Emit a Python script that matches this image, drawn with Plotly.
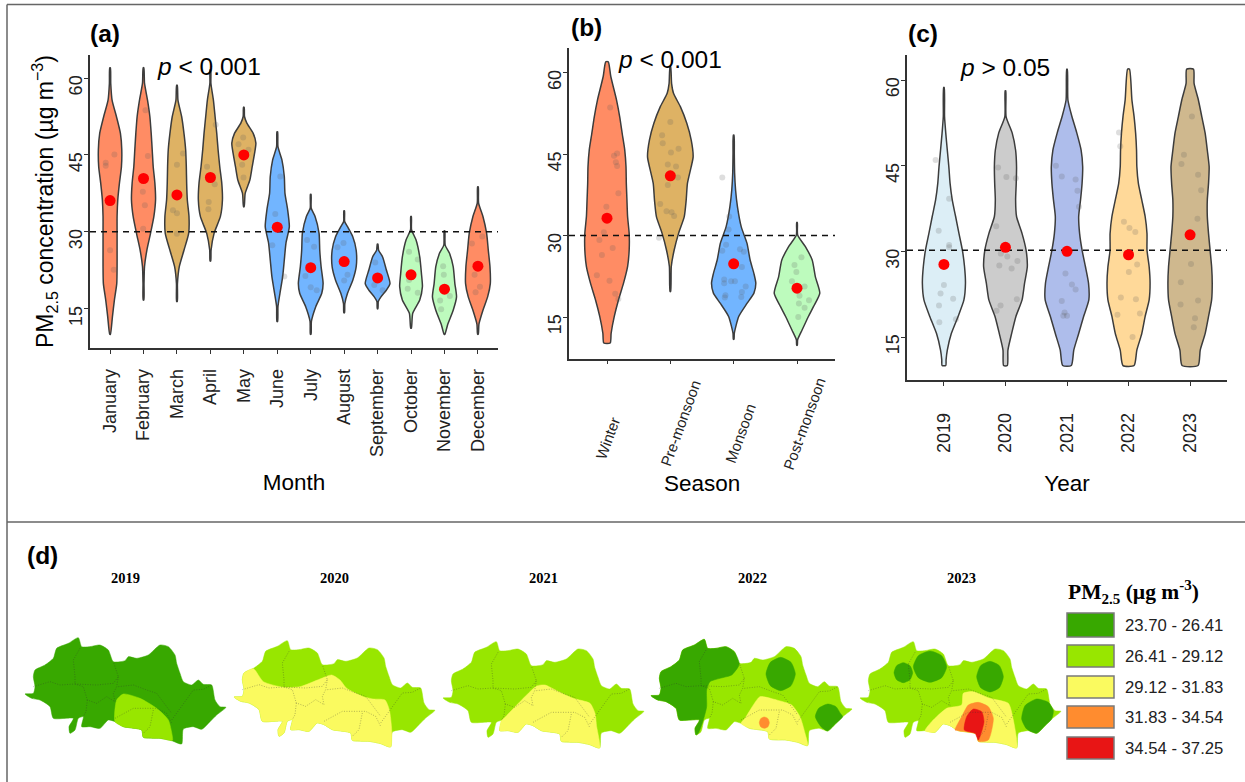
import plotly.graph_objects as go

W, H = 1245, 782
FONT = "Liberation Sans"
SERIF = "Liberation Serif"

# ---------- Panel (a): month ----------
MONTHS = ["January", "February", "March", "April", "May", "June", "July", "August",
          "September", "October", "November", "December"]
MONTH_COLORS = ["#FF8C64", "#FF8C64", "#DEB264", "#DEB264", "#DEB264", "#72B5FF", "#72B5FF",
                "#72B5FF", "#72B5FF", "#BDFBBD", "#BDFBBD", "#FF8C64"]
MONTH_MEANS = [36.1, 40.4, 37.2, 40.6, 45.0, 30.9, 23.0, 24.2, 21.0, 21.6, 18.8, 23.3]
MONTH_LEVELS = [
    [62, 59, 55.7, 52.5, 49.2, 46, 42.7, 39.5, 36.2, 33, 29.7, 26.4, 23.2, 19.9, 16.7, 13.4, 10],
    [62, 59, 55.7, 52.5, 49.2, 46, 42.7, 39.5, 36.2, 33, 29.7, 26.4, 23.2, 19.9, 16.7],
    [58.6, 55.7, 52.5, 49.2, 46, 42.7, 39.5, 36.2, 33, 29.7, 26.4, 23.2, 19.9, 16.4],
    [61.6, 59, 55.7, 52.5, 49.2, 46, 42.7, 39.5, 36.2, 33, 29.7, 26.4, 24.3],
    [54.3, 52.5, 51.2, 49.2, 47.3, 45.3, 42.7, 40.1, 37.5, 34.9],
    [49.5, 46.6, 44, 40.8, 37.5, 34.3, 31, 27.8, 24.5, 21.2, 18, 15.4, 12.5],
    [37.3, 34.6, 33, 29.7, 26.4, 23.2, 19.9, 18, 15.4, 12.5, 10],
    [34.1, 32, 31, 29, 26.4, 23.2, 20.6, 18, 16, 14.2],
    [27.6, 26.4, 25.1, 22.6, 19.9, 18.6, 17.3, 16.4, 15],
    [33, 30.4, 28.4, 25.1, 21.9, 19.3, 16.7, 14.1, 11.2],
    [30.2, 27.4, 25.8, 23.2, 19.9, 17.3, 14.7, 12, 10],
    [38.8, 35.6, 33, 29.7, 26.4, 23.2, 19.9, 17.3, 14.7, 12, 10],
]
MONTH_WIDTHS = [
    [.01, .02, .06, .19, .31, .35, .34, .28, .23, .21, .21, .21, .21, .20, .13, .07, .01],
    [.01, .03, .12, .19, .23, .26, .29, .34, .36, .31, .21, .10, .03, .015, .01],
    [.01, .03, .14, .21, .26, .28, .29, .31, .36, .35, .21, .07, .015, .01],
    [.01, .015, .09, .14, .19, .23, .28, .34, .36, .30, .11, .02, .01],
    [.01, .02, .09, .28, .36, .32, .25, .18, .04, .01],
    [.01, .02, .14, .21, .23, .31, .36, .26, .21, .16, .08, .02, .01],
    [.01, .015, .13, .25, .27, .31, .37, .33, .15, .02, .01],
    [.01, .015, .10, .26, .36, .36, .26, .10, .02, .01],
    [.01, .03, .15, .26, .37, .26, .10, .02, .01],
    [.01, .015, .15, .26, .31, .34, .26, .05, .01],
    [.01, .02, .15, .26, .31, .36, .26, .10, .01],
    [.01, .02, .15, .26, .31, .36, .37, .29, .15, .03, .01],
]
MONTH_PTS = [
    [(.13, 45.1), (-.13, 43.5), (-.13, 42.9), (0, 26.4), (.11, 22.6)],
    [(.06, 53.7), (.13, 44.8), (-.02, 37.8), (.04, 35.2), (-.01, 30.6)],
    [(.18, 45.3), (0, 43.1), (-.12, 34.2), (0, 33.6), (0, 29.6)],
    [(.16, 50.9), (-.10, 42.7), (.07, 40.4), (.13, 39.3), (-.05, 35.8), (-.06, 34.4)],
    [(-.02, 48.4), (-.16, 47.1), (.14, 46), (-.05, 43.1), (-.01, 40.6)],
    [(.09, 40.8), (-.06, 33.5), (-.15, 27.4), (.21, 21.3)],
    [(-.11, 28.4), (.10, 27.1), (-.16, 21.4), (0, 19.2), (.18, 18.6)],
    [(-.02, 27.8), (-.2, 27), (.1, 21.6), (0, 20.5)],
    [(-.07, 24), (-.1, 19.6), (.15, 18.6)],
    [(-.06, 26.1), (.2, 24.6), (-.06, 20.6), (-.1, 18.9), (.2, 18.1)],
    [(-.04, 23.3), (-.02, 21.6), (.16, 17.5), (-.13, 16.6), (-.1, 14.9)],
    [(.13, 29.1), (-.18, 27.7), (-.1, 21.6), (.06, 19.3), (-.07, 18.2)],
]

# ---------- Panel (b): season ----------
SEASONS = ["Winter", "Pre-monsoon", "Monsoon", "Post-monsoon"]
SEASON_COLORS = ["#FF8C64", "#DEB264", "#72B5FF", "#BDFBBD"]
SEASON_MEANS = [33.2, 41.0, 24.8, 20.3]
SEASON_LEVELS = [
    [62, 59.3, 55, 51.9, 48.8, 45.8, 42.7, 39.6, 36.5, 33.5, 30.4, 27.3, 24.3, 21.2, 18.1, 15.1, 12, 10.2],
    [61.1, 58, 56.2, 53.7, 50.7, 47.6, 44.5, 42.7, 39.6, 36.5, 33.5, 30.4, 27.3, 24.3, 19.7],
    [48.5, 45.1, 41.5, 38.4, 35.3, 31.6, 28.6, 25.5, 23, 21.2, 19.4, 17.5, 15.1, 12, 10.9],
    [32.4, 30.1, 28, 25.5, 22.4, 19.4, 16.9, 15.1, 12.6, 10.8, 9.8],
]
SEASON_WIDTHS = [
    [.02, .06, .15, .20, .24, .28, .30, .305, .315, .325, .35, .35, .325, .26, .18, .115, .065, .05],
    [.005, .02, .05, .16, .26, .33, .36, .33, .27, .25, .22, .13, .06, .015, .005],
    [.005, .01, .015, .03, .06, .12, .21, .26, .32, .35, .32, .21, .08, .01, .005],
    [.005, .01, .13, .24, .29, .36, .26, .18, .08, .01, .005],
]
SEASON_PTS = [
    [(.05, 53.6), (.16, 45.1), (.11, 44.7), (.14, 43.5), (.16, 42.8), (.18, 37.8), (-.01, 35.3), (-.05, 30.6),
     (-.12, 29.2), (.09, 27.7), (-.08, 26.4), (-.16, 22.7), (.04, 21.7), (.13, 19.3), (.18, 18.3)],
    [(0, 50.9), (-.13, 48.5), (-.12, 47), (.13, 46), (.01, 45.3), (-.04, 43.1), (.09, 42.7), (.12, 40.7),
     (-.04, 39.3), (-.16, 35.8), (-.06, 34.5), (.02, 34.3), (.06, 33.6), (-.18, 29.6)],
    [(-.18, 40.7), (-.07, 33.5), (-.08, 31.1), (-.12, 28.3), (-.18, 27.2), (.10, 27.5), (.16, 27), (.13, 24.2),
     (-.15, 21.9), (-.15, 21.2), (-.04, 21.6), (.02, 21.6), (.19, 20.6), (.13, 19.6), (.12, 18.7), (-.13, 19), (-.14, 18.6)],
    [(.07, 26), (-.04, 24.6), (-.01, 23.3), (-.08, 21.6), (.12, 20.6), (.04, 18.9), (.19, 18.1), (.03, 17.5),
     (.12, 16.7), (.02, 15)],
]

# ---------- Panel (c): year ----------
YEARS = ["2019", "2020", "2021", "2022", "2023"]
YEAR_COLORS = ["#DCEEF6", "#CCCCCC", "#AEBDEB", "#FFD999", "#CFB88E"]
YEAR_MEANS = [27.7, 30.7, 30.0, 29.4, 32.9]
YEAR_LEVELS = [
    [58.7, 53.6, 50.7, 47.7, 44.8, 41.9, 39, 36.1, 33.1, 30.2, 27.3, 24.4, 21.5, 18.6, 15.6, 12.7, 11, 10],
    [58.1, 53.6, 50.7, 47.7, 44.8, 41.9, 39, 36.1, 33.1, 30.2, 27.3, 24.4, 21.5, 18.6, 15.6, 12.7, 10],
    [61.9, 56.5, 53.6, 50.7, 47.7, 44.8, 41.9, 39, 36.1, 33.1, 30.2, 27.3, 24.4, 21.5, 18.6, 15.6, 12.7, 10],
    [61.9, 56.5, 53.6, 50.7, 47.7, 44.8, 41.9, 39, 36.1, 33.1, 30.2, 27.3, 24.4, 21.5, 18.6, 15.6, 12.7, 10],
    [61.9, 59.4, 56.5, 53.6, 50.7, 47.7, 44.8, 41.9, 39, 36.1, 33.1, 30.2, 27.3, 24.4, 21.5, 18.6, 15.6, 12.7, 10],
]
YEAR_WIDTHS = [
    [.005, .01, .03, .055, .08, .10, .135, .19, .245, .30, .335, .35, .325, .23, .12, .055, .035, .03],
    [.005, .01, .11, .165, .18, .175, .165, .18, .27, .335, .355, .31, .27, .17, .10, .04, .03],
    [.005, .015, .08, .16, .23, .255, .245, .22, .19, .205, .245, .30, .35, .355, .27, .19, .11, .07],
    [.015, .055, .09, .115, .13, .135, .16, .215, .27, .30, .30, .335, .35, .335, .27, .215, .135, .09],
    [.055, .065, .135, .19, .245, .28, .31, .30, .28, .28, .30, .325, .35, .36, .35, .30, .245, .165, .13],
]
YEAR_PTS = [
    [(-.135, 46), (.085, 39.2), (-.085, 33.6), (.085, 31.1), (.085, 30.7), (0, 24.1), (-.055, 22.6), (.15, 21.7),
     (-.08, 20.5), (.195, 18.1), (-.075, 17.6)],
    [(-.12, 44.7), (.015, 43), (.17, 42.8), (-.15, 34.4), (-.075, 29.6), (.03, 29.1), (.195, 28.3), (-.10, 27.5),
     (.10, 27), (.185, 21.6), (-.08, 20.5), (-.145, 19.6)],
    [(-.18, 45), (-.085, 43.1), (.14, 42.6), (.17, 40.6), (.195, 37.8), (-.025, 26.1), (.08, 24.2), (.14, 23.3),
     (-.085, 21.3), (-.04, 19.3), (-.06, 18.7), (0, 18.7)],
    [(-.155, 50.8), (-.135, 48.4), (-.075, 35.2), (.015, 34.1), (.11, 33.4), (.14, 27.7), (.005, 26.4), (-.125, 21.9),
     (.12, 21.6), (-.18, 18.9), (.185, 19.1), (.065, 15)],
    [(.03, 53.6), (-.10, 46.9), (-.14, 45.3), (.13, 43.4), (.18, 40.7), (.12, 35.7), (.015, 27.8), (-.15, 24.6),
     (-.155, 20.7), (.13, 21.4), (.08, 18.3), (.06, 16.7)],
]

# ---------- Panel (d): maps ----------
OUTLINE = [(75, 492), (100, 490), (105, 470), (100, 440), (105, 420), (135, 405), (160, 385), (170, 355), (205, 340),
           (235, 323), (245, 350), (270, 350), (300, 345), (325, 360), (340, 395), (375, 392), (385, 380), (410, 385),
           (445, 375), (480, 345), (505, 350), (525, 375), (530, 400), (540, 430), (550, 455), (575, 465), (595, 450),
           (610, 463), (635, 465), (645, 510), (660, 530), (678, 532), (650, 555), (630, 575), (605, 598), (580, 590),
           (550, 597), (545, 642), (515, 632), (480, 625), (430, 622), (425, 600), (370, 590), (345, 575), (325, 570),
           (300, 595), (270, 590), (245, 590), (250, 560), (235, 565), (225, 600), (210, 610), (207, 590), (220, 565),
           (160, 565), (150, 530), (120, 510), (95, 505)]
DISTRICTS = [
    [(240, 355), (220, 390), (225, 440), (225, 462)],
    [(100, 470), (150, 455), (180, 465), (225, 462), (250, 470), (262, 510), (290, 520), (320, 500)],
    [(225, 462), (290, 465), (340, 460), (355, 440), (340, 395)],
    [(355, 440), (350, 470), (340, 490), (345, 515), (320, 500)],
    [(355, 470), (400, 465), (440, 480), (470, 490), (500, 530), (515, 550)],
    [(515, 570), (550, 520), (580, 480), (610, 478), (635, 465)],
    [(345, 565), (400, 535), (440, 535), (470, 535), (500, 550), (515, 580)],
    [(460, 540), (450, 590), (430, 610)],
    [(262, 510), (258, 545), (250, 560)],
]
MAP_NAMES = ["2019", "2020", "2021", "2022", "2023"]
MAP_SHIFT = [(0, 0), (627, 9), (1254, 12), (1878, 5), (2505, 12)]
MAP_LABEL_X = [125, 334, 543, 752, 961]
DARK, LIGHT, YELLOW, ORANGE, RED = "#38A800", "#98E600", "#FAFA5F", "#FF8C2F", "#E81515"
MAP_BASE = [DARK, LIGHT, LIGHT, LIGHT, LIGHT]
# each zone: colour, inner boundary, first and last outline vertex that closes it
MAP_ZONES = [
    [(LIGHT, [(350, 510), (370, 492), (420, 505), (470, 535), (505, 570), (518, 630)], 38, 43)],
    [(YELLOW, [(133, 407), (163, 446), (223, 463), (273, 461), (333, 438), (368, 426), (393, 441), (413, 466), (463, 491),
               (493, 498), (528, 501), (541, 531), (548, 591)], 37, 62)],
    [(YELLOW, [(258, 553), (306, 503), (356, 456), (381, 453), (416, 470), (466, 493), (516, 508), (531, 538), (536, 578)],
      37, 48)],
    [(DARK, [(337, 405), (317, 430), (282, 440), (252, 450), (242, 475), (242, 525), (232, 565), (217, 605)], 51, 72),
     (DARK, [(464, 377), (495, 392), (508, 427), (495, 462), (464, 477), (433, 462), (420, 427), (433, 392)], None, None),
     (DARK, [(585, 585), (568, 555), (578, 530), (605, 517), (630, 525), (643, 545)], 32, 34),
     (YELLOW, [(357, 560), (382, 520), (402, 495), (452, 505), (497, 520), (522, 555), (537, 605)], 37, 43),
     (ORANGE, [(415, 556), (426, 561), (430, 573), (426, 585), (415, 590), (404, 585), (400, 573), (404, 561)], None, None)],
    [(DARK, [(205, 386), (225, 395), (233, 416), (225, 437), (205, 446), (185, 437), (177, 416), (185, 395)], None, None),
     (DARK, [(285, 351), (320, 365), (335, 398), (320, 431), (285, 445), (250, 431), (235, 398), (250, 365)], None, None),
     (DARK, [(465, 382), (493, 395), (505, 428), (493, 461), (465, 474), (437, 461), (425, 428), (437, 395)], None, None),
     (DARK, [(575, 585), (560, 555), (570, 515), (605, 495), (640, 505), (655, 530)], 32, 34),
     (YELLOW, [(290, 563), (335, 523), (380, 513), (385, 478), (415, 473), (465, 493), (520, 508), (535, 558)], 37, 46),
     (ORANGE, [(360, 588), (380, 548), (400, 513), (430, 505), (460, 518), (475, 553), (460, 618)], 40, 42),
     (RED, [(388, 588), (395, 548), (415, 525), (440, 533), (447, 563), (430, 618), (420, 598)], None, None)],
]
LEGEND_LABELS = ["23.70 - 26.41", "26.41 - 29.12", "29.12 - 31.83", "31.83 - 34.54", "34.54 - 37.25"]
LEGEND_COLORS = [DARK, LIGHT, YELLOW, ORANGE, RED]
LEGEND_TOPS = [613, 645, 676, 706, 737]
LEGEND_BOTTOMS = [637, 667, 698, 728, 759]


def px(v):
    return v / W


def py(v):
    return 1 - v / H


fig = go.Figure()


def add_panel(ax, centers, colors, levels, widths, pts, means, thresh, rng):
    xa, ya = f"x{ax}", f"y{ax}"
    for c, col, lv, wd, pt in zip(centers, colors, levels, widths, pts):
        xs = [c + w for w in wd] + [c - w for w in reversed(wd)]
        ys = list(lv) + list(reversed(lv))
        fig.add_trace(go.Scatter(x=xs + xs[:1], y=ys + ys[:1], mode="lines", fill="toself", fillcolor=col,
                                 line=dict(color="#3C3C3C", width=1.5, shape="spline", smoothing=0.6),
                                 xaxis=xa, yaxis=ya, hoverinfo="skip"))
        fig.add_trace(go.Scatter(x=[c + p[0] for p in pt], y=[p[1] for p in pt], mode="markers",
                                 marker=dict(size=6, color="rgba(90,90,90,0.2)", line=dict(width=0)),
                                 xaxis=xa, yaxis=ya, hoverinfo="skip"))
    fig.add_trace(go.Scatter(x=rng, y=[thresh, thresh], mode="lines",
                             line=dict(color="#111111", width=1.5, dash="6px,5px"),
                             xaxis=xa, yaxis=ya, hoverinfo="skip"))
    fig.add_trace(go.Scatter(x=list(centers), y=means, mode="markers",
                             marker=dict(size=11, color="#FF0000", line=dict(width=0)),
                             xaxis=xa, yaxis=ya))


add_panel(1, list(range(1, 13)), MONTH_COLORS, MONTH_LEVELS, MONTH_WIDTHS, MONTH_PTS, MONTH_MEANS, 30, [0.4, 12.6])
add_panel(2, list(range(1, 5)), SEASON_COLORS, SEASON_LEVELS, SEASON_WIDTHS, SEASON_PTS, SEASON_MEANS, 30, [0.4, 4.6])
add_panel(3, list(range(1, 6)), YEAR_COLORS, YEAR_LEVELS, YEAR_WIDTHS, YEAR_PTS, YEAR_MEANS, 30.2, [0.4, 5.6])

# maps
n = len(OUTLINE)
for (dx, dy), base, zones in zip(MAP_SHIFT, MAP_BASE, MAP_ZONES):
    ring = OUTLINE + OUTLINE[:1]
    fig.add_trace(go.Scatter(x=[p[0] + dx for p in ring], y=[p[1] + dy for p in ring], mode="lines", fill="toself",
                             fillcolor=base, line=dict(color=base, width=0.5, shape="spline", smoothing=0.6),
                             xaxis="x4", yaxis="y4", hoverinfo="skip"))
    for col, inner, a, b in zones:
        poly = list(inner)
        if a is not None:
            poly += [OUTLINE[i % n] for i in range(a, b + 1)]
        poly += poly[:1]
        fig.add_trace(go.Scatter(x=[p[0] + dx for p in poly], y=[p[1] + dy for p in poly], mode="lines", fill="toself",
                                 fillcolor=col, line=dict(color=col, width=0.5, shape="spline", smoothing=0.6),
                                 xaxis="x4", yaxis="y4", hoverinfo="skip"))
    for d in DISTRICTS:
        fig.add_trace(go.Scatter(x=[p[0] + dx for p in d], y=[p[1] + dy for p in d], mode="lines",
                                 line=dict(color="rgba(50,50,50,0.5)", width=0.7, dash="1px,1.5px"),
                                 xaxis="x4", yaxis="y4", hoverinfo="skip"))

AX = dict(showgrid=False, zeroline=False, showline=True, linecolor="#333333", linewidth=1.5, ticks="outside",
          ticklen=4, tickcolor="#333333", tickfont=dict(family=FONT, size=18, color="#222222"))
YT = dict(tickvals=[15, 30, 45, 60], tickangle=-90, ticklabelshift=10, **AX)
TITLE_FONT = dict(size=22.5, family=FONT)

fig.update_layout(
    width=W, height=H, margin=dict(l=0, r=0, t=0, b=0), showlegend=False,
    paper_bgcolor="white", plot_bgcolor="white", font=dict(family=FONT, color="black"),
    xaxis=dict(domain=[px(90), px(498)], range=[0.4, 12.6], tickvals=list(range(1, 13)), ticktext=MONTHS,
               tickangle=-90, ticklabelstandoff=8, anchor="y", **AX,
               title=dict(text="Month", font=TITLE_FONT, standoff=18)),
    yaxis=dict(domain=[py(348), py(55)], range=[7.33, 64.5], anchor="x", ticklabelstandoff=-5,
               title=dict(text="PM<sub>2.5</sub> concentration (µg m<sup>−3</sup>)", font=dict(size=23, family=FONT), standoff=6), **YT),
    xaxis2=dict(domain=[px(569), px(835)], range=[0.4, 4.6], tickvals=[1, 2, 3, 4], ticktext=SEASONS,
                showticklabels=False, anchor="y2", **AX),
    yaxis2=dict(domain=[py(358.7), py(48)], range=[7.32, 64.55], anchor="x2", ticklabelstandoff=-5, **YT),
    xaxis3=dict(domain=[px(907), px(1227)], range=[0.4, 5.6], tickvals=[1, 2, 3, 4, 5], ticktext=YEARS,
                tickangle=-90, ticklabelstandoff=20, anchor="y3", **AX,
                title=dict(text="Year", font=TITLE_FONT, standoff=23)),
    yaxis3=dict(domain=[py(380), py(55)], range=[7.47, 64.38], anchor="x3", ticklabelstandoff=-5, **YT),
    xaxis4=dict(domain=[0, 1], range=[0, 3735], visible=False, anchor="y4"),
    yaxis4=dict(domain=[0, py(522)], range=[756, -24], visible=False, anchor="x4"),
)

ann = []


def text(x, y, s, size, family=FONT, xanchor="center", angle=0, color="black"):
    ann.append(dict(x=px(x), y=py(y), xref="paper", yref="paper", text=s, showarrow=False, xanchor=xanchor,
                    yanchor="middle", textangle=angle, font=dict(size=size, family=family, color=color)))


for s, x, y in [("<b>(a)</b>", 105, 33), ("<b>(b)</b>", 586, 28), ("<b>(c)</b>", 923, 34), ("<b>(d)</b>", 42, 555)]:
    text(x, y, s, 24.5)
text(209, 66, "<i>p</i> &lt; 0.001", 24.5)
text(670, 60, "<i>p</i> &lt; 0.001", 24.5)
text(1005, 68, "<i>p</i> &gt; 0.05", 24.5)
text(702, 483, "Season", 22.5)

# rotated season tick labels, bottom aligned as in the original
for s, x, y in zip(SEASONS, [608, 680, 740, 804], [439, 423, 433, 423]):
    text(x, y, s, 15, angle=-70, color="#222222")

for name, x in zip(MAP_NAMES, MAP_LABEL_X):
    text(x, 578, f"<b>{name}</b>", 14.5, family=SERIF)
text(1066, 592, "<b>PM<sub>2.5</sub> (µg m<sup>-3</sup>)</b>", 21.5, family=SERIF, xanchor="left")

shapes = []
for col, t, b, lab in zip(LEGEND_COLORS, LEGEND_TOPS, LEGEND_BOTTOMS, LEGEND_LABELS):
    shapes.append(dict(type="rect", xref="paper", yref="paper", x0=px(1067), x1=px(1114), y0=py(b), y1=py(t),
                       fillcolor=col, line=dict(color="#7A7A7A", width=1.5)))
    text(1123, (t + b) / 2, lab, 16.7, xanchor="left", color="#222222")

# panel frame lines
for x0, y0, x1, y1 in [(7, 4.5, W, 4.5), (7, 4.5, 7, H), (7, 522, W, 522)]:
    shapes.append(dict(type="line", xref="paper", yref="paper", x0=px(x0), x1=px(x1), y0=py(y0), y1=py(y1),
                       line=dict(color="#666666", width=1.5)))

fig.update_layout(annotations=ann, shapes=shapes)
fig.write_html("out.html", config=dict(displayModeBar=False), post_script="document.body.style.margin='0';")
